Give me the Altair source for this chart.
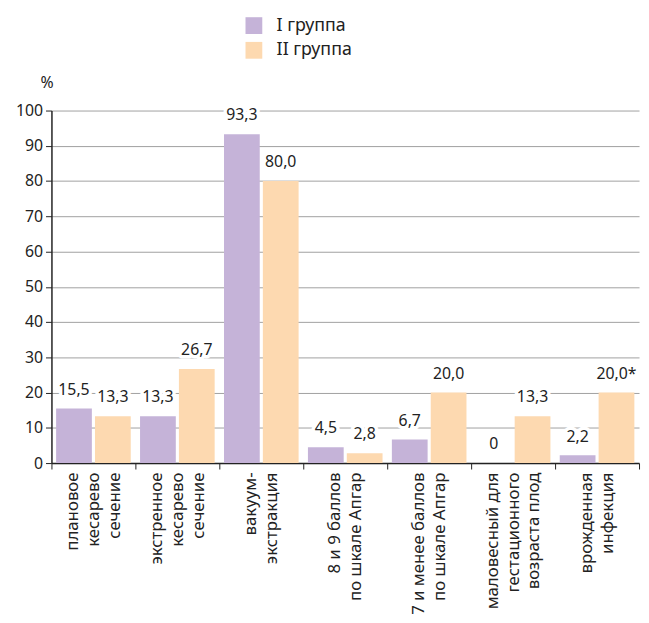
import altair as alt
import pandas as pd

categories = [
    "плановое\nкесарево\nсечение",
    "экстренное\nкесарево\nсечение",
    "вакуум-\nэкстракция",
    "8 и 9 баллов\nпо шкале Апгар",
    "7 и менее баллов\nпо шкале Апгар",
    "маловесный для\nгестационного\nвозраста плод",
    "врожденная\nинфекция",
]
groups = ["I группа", "II группа"]
group1 = [15.5, 13.3, 93.3, 4.5, 6.7, 0, 2.2]
group2 = [13.3, 26.7, 80.0, 2.8, 20.0, 13.3, 20.0]
labels1 = ["15,5", "13,3", "93,3", "4,5", "6,7", "0", "2,2"]
labels2 = ["13,3", "26,7", "80,0", "2,8", "20,0", "13,3", "20,0*"]
colors = ["#c5b3d8", "#fdd9b0"]

rows = []
for c, v, l in zip(categories, group1, labels1):
    rows.append({"cat": c, "group": groups[0], "value": v, "label": l})
for c, v, l in zip(categories, group2, labels2):
    rows.append({"cat": c, "group": groups[1], "value": v, "label": l})
df = pd.DataFrame(rows)

FONT = "Noto Sans"
LH = 21

x = alt.X(
    "cat:N",
    sort=categories,
    scale=alt.Scale(paddingInner=0, paddingOuter=0),
    axis=alt.Axis(
        title=None,
        labelExpr="split(datum.label, '\\n')",
        labelAngle=-90,
        labelFontSize=17,
        labelLineHeight=LH,
        labelColor="#222222",
        labelFont=FONT,
        labelPadding=3,
        labelOffset={
            "condition": {"test": "length(split(datum.label, '\\n')) == 3", "value": -LH},
            "value": -LH / 2,
        },
        tickBand="extent",
        tickSize=6,
        tickColor="#222222",
        domainColor="#222222",
        domainWidth=1.5,
        grid=False,
    ),
)
xo = alt.XOffset(
    "group:N",
    sort=groups,
    scale=alt.Scale(paddingInner=0.08, paddingOuter=0.12),
)
y = alt.Y(
    "value:Q",
    scale=alt.Scale(domain=[0, 100], nice=False),
    axis=alt.Axis(
        values=list(range(0, 101, 10)),
        title="%",
        titleAngle=0,
        titleX=-5,
        titleY=-20,
        titleAlign="center",
        titleBaseline="bottom",
        titleFontSize=16,
        titleFontWeight="normal",
        titleFont=FONT,
        titleColor="#222222",
        labelFontSize=16,
        labelFont=FONT,
        labelColor="#222222",
        labelPadding=3,
        tickSize=6,
        tickColor="#222222",
        domainColor="#222222",
        domainWidth=1.5,
        gridColor="#a0a0a0",
        gridWidth=1,
    ),
)
color = alt.Color(
    "group:N",
    sort=groups,
    scale=alt.Scale(domain=groups, range=colors),
    legend=alt.Legend(
        title=None,
        orient="none",
        legendX=196,
        legendY=-95,
        symbolType="square",
        symbolSize=289,
        symbolStrokeWidth=0,
        symbolOpacity=1,
        labelFontSize=18,
        labelFont=FONT,
        labelColor="#222222",
        labelOffset=14,
        rowPadding=7,
    ),
)

bars = alt.Chart(df).mark_bar(opacity=1).encode(x=x, xOffset=xo, y=y, color=color)

halo = alt.Chart(df).mark_text(
    fontSize=16, font=FONT, baseline="alphabetic", dy=-14,
    stroke="white", strokeWidth=7, strokeJoin="round", color="white",
).encode(x=x, xOffset=xo, y=y, text="label:N")

text = alt.Chart(df).mark_text(
    fontSize=16, font=FONT, baseline="alphabetic", dy=-14, color="#222222",
).encode(x=x, xOffset=xo, y=y, text="label:N")

chart = (
    alt.layer(bars, halo, text)
    .properties(
        width=595,
        height=357,
        autosize=alt.AutoSizeParams(type="none"),
        padding={"left": 44, "top": 100, "right": 2, "bottom": 150},
    )
    .configure_view(stroke=None)
)

chart.save("out.html", embed_options={"renderer": "svg", "actions": False})
